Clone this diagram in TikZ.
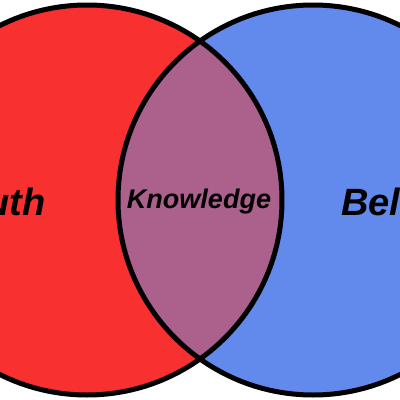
\documentclass[tikz,border=0pt]{standalone}
\usepackage{fontspec}
\setmainfont{Liberation Sans}
\definecolor{truthred}{RGB}{248,48,48}
\definecolor{beliefblue}{RGB}{98,138,236}
\definecolor{knowpurple}{RGB}{172,96,140}
\begin{document}
\begin{tikzpicture}[x=1pt,y=-1pt,
  outline/.style={draw=black,line width=5pt},
  lbl/.style={inner sep=0pt,font=\bfseries\itshape}]
\useasboundingbox (0,0) rectangle (400,400);
\begin{scope}
\clip (0,0) rectangle (400,400);
\fill[truthred] (87,200) circle (195);
\fill[beliefblue] (313,200) circle (195);
\begin{scope}
\clip (87,200) circle (195);
\fill[knowpurple] (313,200) circle (195);
\end{scope}
\draw[outline] (87,200) circle (195);
\draw[outline] (313,200) circle (195);
\end{scope}
\node[lbl,anchor=base east,font=\fontsize{38}{40}\selectfont\bfseries\itshape] (truth) at (46,215) {Truth};
\node[lbl,anchor=base west,font=\fontsize{38}{40}\selectfont\bfseries\itshape] (belief) at (341,215) {Belief};
\node[lbl,anchor=base,font=\fontsize{27}{30}\selectfont\bfseries\itshape] (know) at (199,208) {Knowledge};
\end{tikzpicture}
\end{document}
